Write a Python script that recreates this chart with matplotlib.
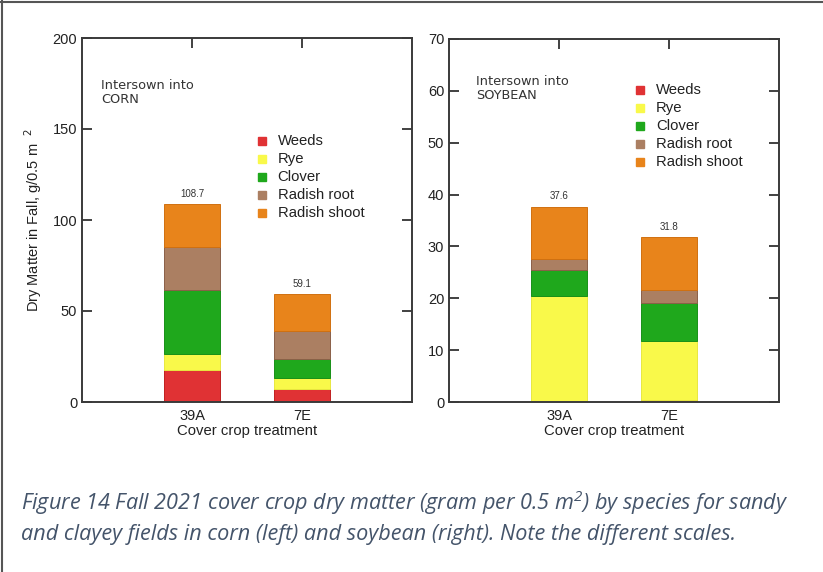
import matplotlib
matplotlib.use("Agg")
import matplotlib.pyplot as plt
from matplotlib.lines import Line2D
import numpy as np

plt.rcParams['font.family'] = ['Liberation Sans', 'DejaVu Sans']

treatments = ["39A", "7E"]
species = ["Weeds", "Rye", "Clover", "Radish root", "Radish shoot"]
colors = ["#e03234", "#f9f94a", "#1fa81c", "#ab7f62", "#e8841b"]
edges = ["#c02020", "#e8e840", "#189018", "#8a6048", "#d07010"]

corn_values = {
    "Weeds": [17.8, 7.0],
    "Rye": [8.3, 6.2],
    "Clover": [35.4, 10.3],
    "Radish root": [23.8, 15.4],
    "Radish shoot": [23.4, 20.2],
}
corn_totals = [108.7, 59.1]

soy_values = {
    "Weeds": [0.1, 0.3],
    "Rye": [20.3, 11.5],
    "Clover": [5.0, 7.2],
    "Radish root": [2.2, 2.6],
    "Radish shoot": [10.0, 10.2],
}
soy_totals = [37.6, 31.8]

corn_yticks = [0, 50, 100, 150, 200]
soy_yticks = [0, 10, 20, 30, 40, 50, 60, 70]

W, H = 823, 572
fig = plt.figure(figsize=(W / 100, H / 100), dpi=100)

def fx(px):
    return px / W

def fy(py):
    return 1 - py / H

ax1 = fig.add_axes([fx(82), fy(402), fx(412 - 82), (402 - 38) / H])
ax2 = fig.add_axes([fx(449), fy(402), fx(779 - 449), (402 - 39) / H])

def draw(ax, values, totals, ymax, yticks, title_lines, tpos, legpos):
    x = np.arange(1, len(treatments) + 1)
    bottom = np.zeros(len(treatments))
    for sp, c, ec in zip(species, colors, edges):
        v = np.array(values[sp])
        ax.bar(x, v, width=0.51, bottom=bottom, color=c, edgecolor=ec,
               linewidth=0.7, zorder=2)
        bottom += v
    for xi, t in zip(x, totals):
        ax.annotate(f"{t:.1f}", (xi, t), xytext=(0, 4), textcoords="offset points",
                    ha="center", va="bottom", fontsize=7, color="#333333")
    ax.set_xlim(0, 3)
    ax.set_ylim(0, ymax)
    ax.set_yticks(yticks)
    ax.set_xticks(x)
    ax.set_xticklabels(treatments)
    ax.tick_params(axis="both", direction="in", length=7, width=1.3,
                   colors="#333333", labelsize=10.5, labelcolor="#222222",
                   top=True, right=True, bottom=False)
    ax.tick_params(axis="x", pad=5)
    for s in ax.spines.values():
        s.set_linewidth(1.4)
        s.set_color("#3a3a3a")
    ax.set_xlabel("Cover crop treatment", fontsize=10.7, color="#222222", labelpad=1)
    ax.text(tpos[0], tpos[1], title_lines, transform=ax.transAxes, fontsize=9.3,
            family="DejaVu Sans", color="#333333", va="top", ha="left",
            linespacing=1.1)
    lx, ly = legpos
    for i, (sp, c) in enumerate(zip(species, colors)):
        yy = ly - i * 0.0496
        ax.plot([lx], [yy], marker="s", markersize=5.5, color=c,
                markeredgecolor=c, transform=ax.transAxes, linestyle="none",
                clip_on=False)
        ax.text(lx + 0.048, yy, sp, transform=ax.transAxes, fontsize=10.7,
                va="center", ha="left", color="#222222")

draw(ax1, corn_values, corn_totals, 200, corn_yticks,
     "Intersown into\nCORN", (0.058, 0.888), (0.545, 0.717))
draw(ax2, soy_values, soy_totals, 70, soy_yticks,
     "Intersown into\nSOYBEAN", (0.082, 0.902), (0.579, 0.860))

ax1.set_ylabel("Dry Matter in Fall, g/0.5 m  $^{2}$", fontsize=10.5,
               color="#222222", labelpad=6)

# page frame lines
fig.add_artist(Line2D([0, 1], [fy(2), fy(2)], transform=fig.transFigure,
                      color="#555555", linewidth=1.5))
fig.add_artist(Line2D([fx(1.5), fx(1.5)], [0, 1], transform=fig.transFigure,
                      color="#555555", linewidth=1.5))

caption1 = "Figure 14 Fall 2021 cover crop dry matter (gram per 0.5 m$^2$) by species for sandy"
caption2 = "and clayey fields in corn (left) and soybean (right). Note the different scales."
plt.rcParams['mathtext.fontset'] = 'custom'
plt.rcParams['mathtext.it'] = 'Open Sans:italic'
plt.rcParams['mathtext.rm'] = 'Open Sans:italic'
fig.text(fx(21), fy(510), caption1, fontsize=15.6, style="italic", family="Open Sans",
         color="#44546a", va="baseline", ha="left")
fig.text(fx(21), fy(540), caption2, fontsize=15.6, style="italic", family="Open Sans",
         color="#44546a", va="baseline", ha="left")

fig.savefig("out.png", dpi=100)
